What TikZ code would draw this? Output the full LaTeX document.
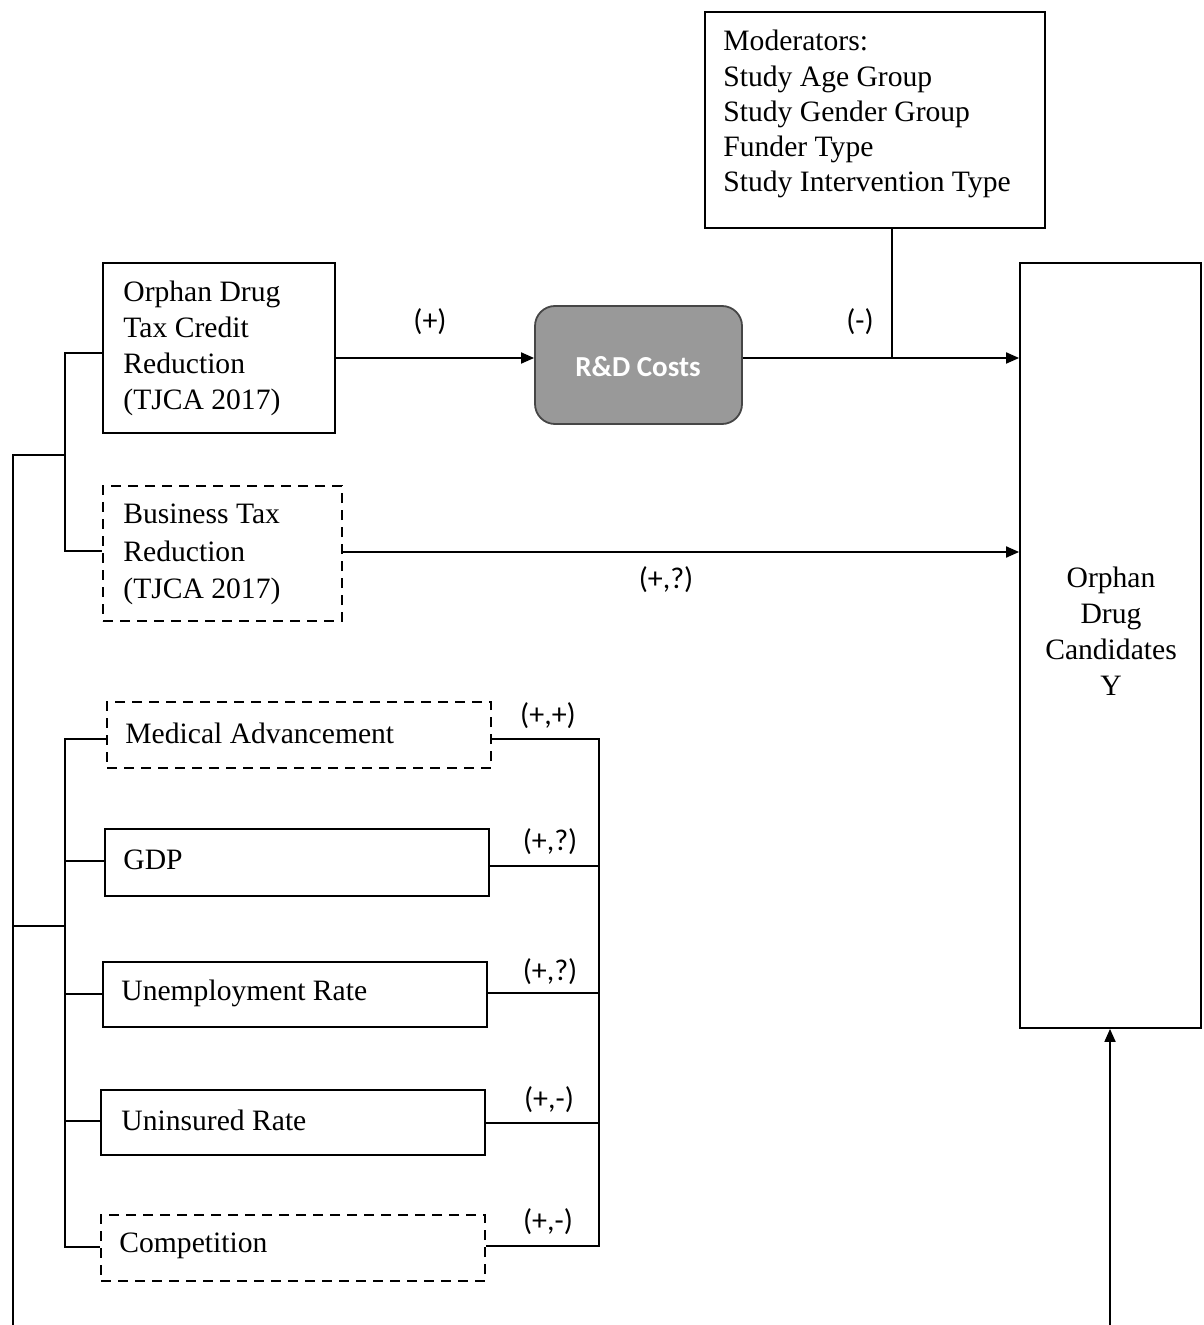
\documentclass[tikz,border=0pt]{standalone}
\usepackage{fontspec}
\setmainfont{Liberation Serif}
\newfontfamily\calib{Carlito}
\usetikzlibrary{arrows.meta,fit}
\definecolor{rdgray}{RGB}{153,153,153}
\definecolor{rdedge}{RGB}{70,70,70}
\begin{document}
\begin{tikzpicture}[x=0.5pt,y=-0.5pt,
  box/.style={draw, line width=0.9pt, inner sep=0pt},
  dbox/.style={box, dash pattern=on 5pt off 3.5pt},
  txt/.style={font=\fontsize{14.8}{18.5}\selectfont, align=left, inner sep=0pt},
  lbl/.style={font=\calib\fontsize{15}{17}\selectfont, inner sep=0pt},
  conn/.style={line width=0.9pt},
  arr/.style={conn, -{Triangle[length=6.5pt,width=5.5pt]}}]
\useasboundingbox (0,0) rectangle (1203,1325);

% boxes
\node[box, fit={(705,12)(1045,228)}] (mod) {};
\node[txt, anchor=north west, font=\fontsize{14.8}{17.6}\selectfont] (modt) at (723,30)
  {Moderators:\\Study Age Group\\Study Gender Group\\Funder Type\\Study Intervention Type};

\node[box, fit={(103,263)(335,433)}] (od) {};
\node[txt, anchor=north west, font=\fontsize{14.8}{18}\selectfont] (odt) at (123,281)
  {Orphan Drug\\Tax Credit\\Reduction\\(TJCA 2017)};

\node[draw=rdedge, line width=0.9pt, fill=rdgray, rounded corners=10pt, inner sep=0pt,
      fit={(535,306)(742,424)}] (rd) {};
\node[font=\calib\bfseries\fontsize{14.5}{16}\selectfont, text=white, inner sep=0pt] (rdt) at (638,367) {R\&D Costs};

\node[box, fit={(1020,263)(1201,1028)}] (y) {};
\node[txt, align=center, font=\fontsize{14.8}{18}\selectfont] (yt) at (1111,631)
  {Orphan\\Drug\\Candidates\\Y};

\node[dbox, fit={(103,486)(342,621)}] (bt) {};
\node[txt, anchor=north west, font=\fontsize{14.8}{18.7}\selectfont] (btt) at (123,504)
  {Business Tax\\Reduction\\(TJCA 2017)};

\node[dbox, fit={(107,702)(491,768)}] (med) {};
\node[txt, anchor=west] (medt) at (125,733) {Medical Advancement};
\node[box, fit={(105,829)(489,896)}] (gdp) {};
\node[txt, anchor=west] (gdpt) at (123,860) {GDP};
\node[box, fit={(103,962)(487,1027)}] (une) {};
\node[txt, anchor=west] (unet) at (121,993) {Unemployment Rate};
\node[box, fit={(101,1090)(485,1155)}] (uni) {};
\node[txt, anchor=west] (unit) at (121,1120) {Uninsured Rate};
\node[dbox, fit={(101,1215)(485,1281)}] (comp) {};
\node[txt, anchor=west] (compt) at (119,1246) {Competition};

% helper coordinates
\coordinate (ya) at (0,358);
\coordinate (mx) at (892,0);
\coordinate (lv) at (65,0);
\coordinate (rv) at (599,0);
\coordinate (j1) at (65,455);
\coordinate (j2) at (65,926);
\coordinate (bl) at (13,1325);
\coordinate (bb) at (1110,1325);

% top connectors
\draw[arr] (od.east |- ya) -- (rd.west |- ya);
\draw[arr] (rd.east |- ya) -- (y.west |- ya);
\draw[conn] (mx |- mod.south) -- (mx |- ya);
\draw[arr] (bt.east |- 0,552) -- (y.west |- 0,552);
\node[lbl] (l1) at (430,322) {(+)};
\node[lbl] (l2) at (860,322) {(-)};
\node[lbl] (l3) at (666,580) {(+,?)};

% left bracket for tax boxes
\draw[conn] (od.west |- 0,353) -- (lv |- 0,353) -- (lv |- 0,551) -- (bt.west |- 0,551);
\draw[conn] (bl) -- (bl |- j1) -- (j1);
\draw[conn] (bl |- j2) -- (j2);

% left bracket for lower boxes
\draw[conn] (med.west |- 0,739) -- (lv |- 0,739) -- (lv |- 0,1247) -- (comp.west |- 0,1247);
\draw[conn] (gdp.west |- 0,861) -- (lv |- 0,861);
\draw[conn] (une.west |- 0,994) -- (lv |- 0,994);
\draw[conn] (uni.west |- 0,1121) -- (lv |- 0,1121);

% right bracket for lower boxes
\draw[conn] (med.east |- 0,739) -- (rv |- 0,739) -- (rv |- 0,1246) -- (comp.east |- 0,1246);
\draw[conn] (gdp.east |- 0,866) -- (rv |- 0,866);
\draw[conn] (une.east |- 0,993) -- (rv |- 0,993);
\draw[conn] (uni.east |- 0,1123) -- (rv |- 0,1123);
\node[lbl] (l4) at (548,716) {(+,+)};
\node[lbl] (l5) at (550,842) {(+,?)};
\node[lbl] (l6) at (550,972) {(+,?)};
\node[lbl] (l7) at (549,1100) {(+,-)};
\node[lbl] (l8) at (548,1222) {(+,-)};

% bottom arrow
\draw[arr] (bb) -- (bb |- y.south);
\end{tikzpicture}
\end{document}
